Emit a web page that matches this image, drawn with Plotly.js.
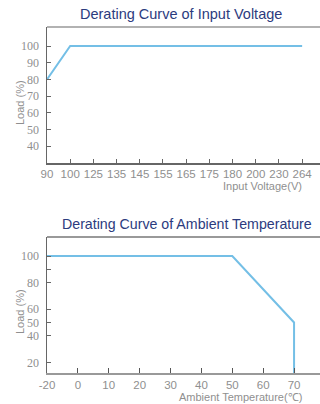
<!DOCTYPE html>
<html><head><meta charset="utf-8">
<script src="https://cdn.plot.ly/plotly-3.0.1.min.js"></script>
<style>html,body{margin:0;padding:0;background:#fff}#c{width:320px;height:404px}</style>
</head><body><div id="c"></div>
<script>
// Chart 1: Input voltage derating
const voltCategories = ['90','100','125','135','145','155','165','175','180','200','230','264'];
const voltX = ['90','100','264'];
const voltLoad = [80,100,100];
const voltYTicks = [40,50,60,70,80,90,100];

// Chart 2: Ambient temperature derating
const tempCategories = ['-20','0','10','20','30','40','50','60','70'];
const tempX = ['-20','50','70','70'];
const tempLoad = [100,100,50,0];
const tempYTicks = [20,40,50,60,80,90,100];
const tempYTickText = ['20','40','50','60','80','','100'];

const lineColor = '#74bfe6';
const axisColor = '#666';
const tickFontX = {family:'Liberation Sans, Arial, sans-serif', size:11.5, color:'#8f8f8f'};
const tickFontY = {family:'Liberation Serif', size:12, color:'#8f8f8f'};
const titleFont = {family:'Liberation Sans, Arial, sans-serif', size:14.5, color:'#2c3b7e'};
const axTitleFont = {family:'Liberation Sans, Arial, sans-serif', size:11, color:'#8f8f8f'};

const H = 404, W = 320;
const xd = [47/W, 1];
const d1 = [1-163/H, 1-27/H];
const d2 = [1-373/H, 1-237/H];

const traces = [
  {x: voltX, y: voltLoad, xaxis:'x', yaxis:'y', mode:'lines', line:{color:lineColor, width:2}, hoverinfo:'skip'},
  {x: tempX, y: tempLoad, xaxis:'x2', yaxis:'y2', mode:'lines', line:{color:lineColor, width:2}, hoverinfo:'skip'}
];

const layout = {
  width: W, height: H,
  margin: {l:0, r:0, t:0, b:0},
  paper_bgcolor:'#fff', plot_bgcolor:'#fff',
  showlegend:false,
  xaxis: {domain: xd, anchor:'y', type:'category', categoryorder:'array', categoryarray: voltCategories,
    tickvals: voltCategories, range:[0, 11.77], showgrid:false, zeroline:false,
    showline:true, linecolor:axisColor, linewidth:1.5, ticks:'inside', ticklen:4, tickcolor:axisColor,
    tickfont: tickFontX, fixedrange:true, automargin:false},
  yaxis: {domain: d1, anchor:'x', range:[30, 111.4], tickvals: voltYTicks, showgrid:false, zeroline:false,
    showline:true, linecolor:axisColor, linewidth:1.5, ticks:'inside', ticklen:4, tickcolor:axisColor,
    tickfont: tickFontY, ticklabelstandoff:4, fixedrange:true, automargin:false},
  xaxis2: {domain: xd, anchor:'y2', type:'category', categoryorder:'array', categoryarray: tempCategories,
    tickvals: tempCategories, range:[0, 8.84], showgrid:false, zeroline:false,
    showline:true, linecolor:'#999', linewidth:2, ticks:'inside', ticklen:5, tickcolor:'#555',
    tickfont: tickFontX, fixedrange:true, automargin:false},
  yaxis2: {domain: d2, anchor:'x2', range:[12, 114.3], tickvals: tempYTicks, ticktext: tempYTickText,
    showgrid:false, zeroline:false,
    showline:true, linecolor:axisColor, linewidth:1.5, ticks:'inside', ticklen:4, tickcolor:axisColor,
    tickfont: tickFontY, ticklabelstandoff:4, fixedrange:true, automargin:false},
  shapes: [
    {type:'line', xref:'paper', yref:'paper', x0:xd[0], x1:1, y0:d1[1], y1:d1[1], line:{color:'#999', width:1.5}},
    {type:'line', xref:'paper', yref:'paper', x0:xd[0], x1:1, y0:d2[1], y1:d2[1], line:{color:'#777', width:1.5}}
  ],
  annotations: [
    {text:'Derating Curve of Input Voltage', xref:'paper', yref:'paper', x:181/W, y:1-14/H, xanchor:'center', yanchor:'middle', showarrow:false, font:titleFont},
    {text:'Derating Curve of Ambient Temperature', xref:'paper', yref:'paper', x:187/W, y:1-224/H, xanchor:'center', yanchor:'middle', showarrow:false, font:{...titleFont, size:14.2}},
    {text:'Input Voltage(V)', xref:'paper', yref:'paper', x:304/W, y:1-186/H, xanchor:'right', yanchor:'middle', showarrow:false, font:axTitleFont},
    {text:'Ambient Temperature(℃)', xref:'paper', yref:'paper', x:304/W, y:1-397/H, xanchor:'right', yanchor:'middle', showarrow:false, font:axTitleFont},
    {text:'Load (%)', xref:'paper', yref:'paper', x:20/W, y:1-103/H, xanchor:'center', yanchor:'middle', textangle:-90, showarrow:false, font:axTitleFont},
    {text:'Load (%)', xref:'paper', yref:'paper', x:20/W, y:1-312/H, xanchor:'center', yanchor:'middle', textangle:-90, showarrow:false, font:axTitleFont}
  ]
};

Plotly.newPlot('c', traces, layout, {displayModeBar:false, staticPlot:true});
</script>
</body></html>
